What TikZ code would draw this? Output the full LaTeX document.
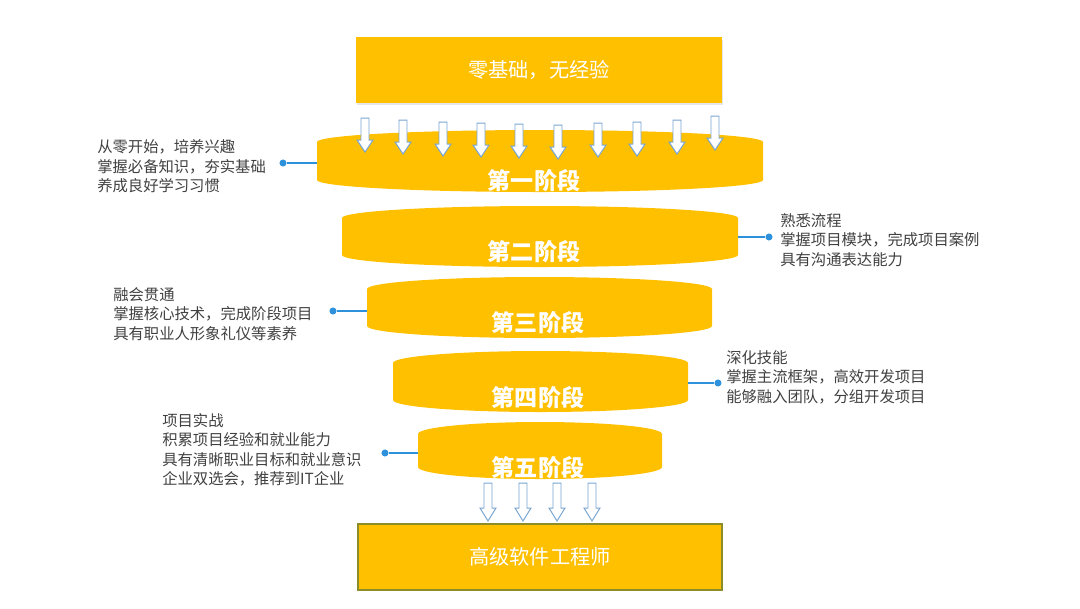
\documentclass[tikz,border=0pt]{standalone}
\usepackage{fontspec}
\setmainfont{Noto Sans CJK SC}
\usetikzlibrary{shadows}
\definecolor{amber}{RGB}{255,192,0}
\definecolor{linkblue}{RGB}{46,145,220}
\definecolor{notegray}{RGB}{64,64,64}
\definecolor{arrowblue}{RGB}{120,165,210}
\definecolor{boxedge}{RGB}{140,140,40}
\begin{document}
\begin{tikzpicture}[x=0.025cm, y=-0.025cm,
	box/.style={fill=amber, text=white, minimum width=9.15cm, minimum height=1.63cm, font=\fontsize{14.4}{16}\selectfont},
	stagelbl/.style={text=white, font=\bfseries\fontsize{16.4}{18}\selectfont},
	note/.style={text=notegray, align=left, inner sep=0pt, anchor=west, font=\fontsize{10.9}{13.8}\selectfont},
	dot/.style={circle, fill=linkblue, inner sep=0pt, minimum size=5pt},
	link/.style={linkblue, line width=1.1pt},
	hollow/.style={draw=arrowblue, fill=white, line width=0.7pt}]
	\useasboundingbox (0,0) rectangle (1080,608);
	\node[box, drop shadow={shadow xshift=1pt, shadow yshift=-1.5pt, opacity=0.2}] (start) at (539,70) {零基础，无经验};
	\node[box, draw=boxedge, line width=0.8pt, minimum width=9.1cm, minimum height=1.65cm] (goal) at (540,557) {高级软件工程师};
	\foreach \l/\r/\t/\b in {317/763/130/192, 342/738/206/267, 367/712/277/338, 393/688/351/412, 418/662/422/479}
		{\fill[amber] (\l,\t+12) arc[start angle=180, end angle=360, x radius={(\r-\l)/2}, y radius=12] -- (\r,\b-12) arc[start angle=0, end angle=180, x radius={(\r-\l)/2}, y radius=12] -- cycle;}
	\foreach \x/\y in {365/118, 403/120, 443/122, 481/123, 519/124, 558/125, 598/123, 637/122, 677/120, 715/116}
		{\draw[hollow] (\x-4,\y) -- (\x+4,\y) -- (\x+4,\y+22) -- (\x+8,\y+22) -- (\x,\y+34) -- (\x-8,\y+22) -- (\x-4,\y+22) -- cycle;}
	\foreach \x in {488, 523, 557, 592}
		{\draw[hollow] (\x-4,483) -- (\x+4,483) -- (\x+4,508) -- (\x+8,508) -- (\x,521) -- (\x-8,508) -- (\x-4,508) -- cycle;}
	\node[stagelbl] (s1) at (534,181) {第一阶段};
	\node[stagelbl] (s2) at (534,252) {第二阶段};
	\node[stagelbl] (s3) at (538,323) {第三阶段};
	\node[stagelbl] (s4) at (538,398) {第四阶段};
	\node[stagelbl] (s5) at (538,468) {第五阶段};
	\node[dot] (d1) at (283,163) {}; \coordinate (e1) at (317,163);
	\node[dot] (d2) at (769,237) {}; \coordinate (e2) at (738,237);
	\node[dot] (d3) at (333,311) {}; \coordinate (e3) at (367,311);
	\node[dot] (d4) at (718,383) {}; \coordinate (e4) at (688,383);
	\node[dot] (d5) at (385,453) {}; \coordinate (e5) at (418,453);
	\foreach \i in {1,...,5} {\draw[link] (e\i) -- (d\i);}
	\node[note] (n1) at (97,166.5) {从零开始，培养兴趣\\掌握必备知识，夯实基础\\养成良好学习习惯};
	\node[note] (n2) at (780,240) {熟悉流程\\掌握项目模块，完成项目案例\\具有沟通表达能力};
	\node[note] (n3) at (113,314) {融会贯通\\掌握核心技术，完成阶段项目\\具有职业人形象礼仪等素养};
	\node[note] (n4) at (726,377) {深化技能\\掌握主流框架，高效开发项目\\能够融入团队，分组开发项目};
	\node[note] (n5) at (162,450) {项目实战\\积累项目经验和就业能力\\具有清晰职业目标和就业意识\\企业双选会，推荐到IT企业};
\end{tikzpicture}
\end{document}
